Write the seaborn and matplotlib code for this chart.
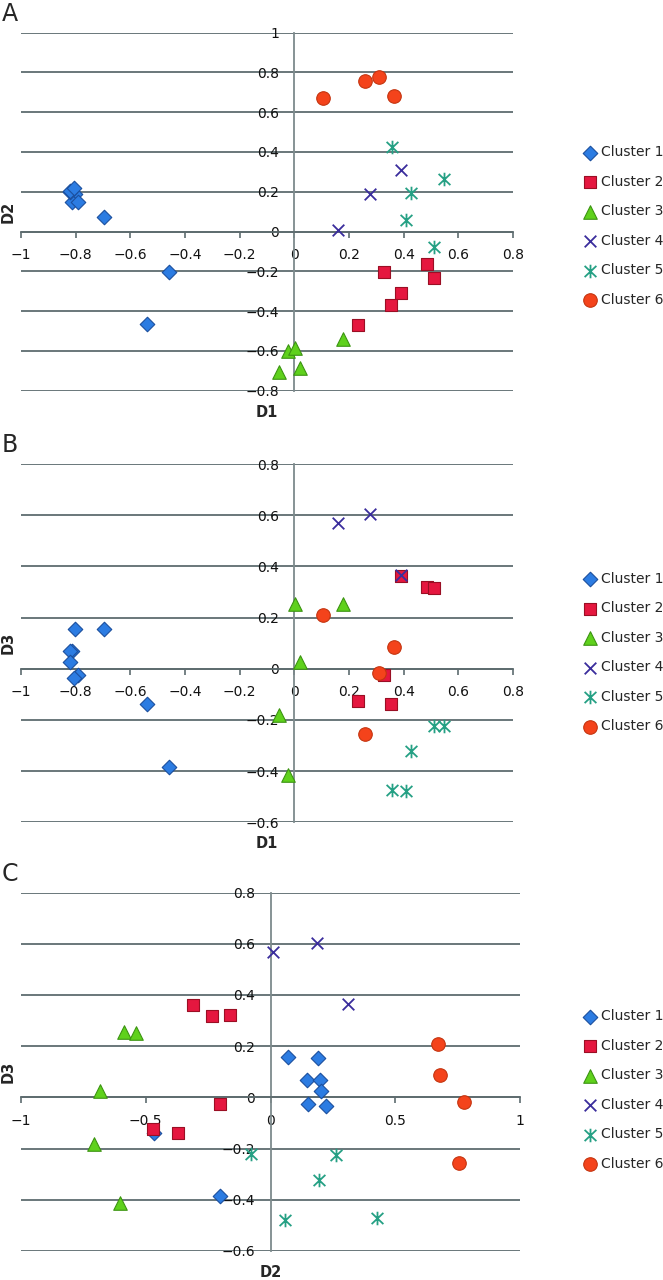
import numpy as np
import pandas as pd
import matplotlib
matplotlib.use('Agg')
import matplotlib.pyplot as plt
from matplotlib.path import Path
from matplotlib.ticker import FuncFormatter, MultipleLocator
import seaborn as sns

sns.set_theme(style='white')
plt.rcParams['font.family'] = ['DejaVu Sans']

# MDS coordinates for every cluster (D1, D2, D3)
c1_D1 = [-0.697, -0.458, -0.539, -0.803, -0.815, -0.820, -0.820, -0.790, -0.807]
c1_D2 = [0.072, -0.202, -0.465, 0.190, 0.147, 0.198, 0.202, 0.150, 0.221]
c1_D3 = [0.157, -0.385, -0.138, 0.155, 0.069, 0.068, 0.025, -0.026, -0.035]

c2_D1 = [0.327, 0.486, 0.512, 0.391, 0.355, 0.234]
c2_D2 = [-0.201, -0.163, -0.234, -0.310, -0.369, -0.469]
c2_D3 = [-0.026, 0.320, 0.316, 0.361, -0.138, -0.125]

c3_D1 = [-0.022, 0.003, -0.058, 0.019, 0.178]
c3_D2 = [-0.602, -0.587, -0.706, -0.684, -0.540]
c3_D3 = [-0.414, 0.254, -0.182, 0.026, 0.251]

c4_D1 = [0.161, 0.275, 0.389]
c4_D2 = [0.010, 0.187, 0.309]
c4_D3 = [0.568, 0.603, 0.365]

c5_D1 = [0.356, 0.546, 0.425, 0.407, 0.510]
c5_D2 = [0.425, 0.264, 0.193, 0.060, -0.079]
c5_D3 = [-0.472, -0.224, -0.323, -0.478, -0.222]

c6_D1 = [0.105, 0.257, 0.310, 0.366]
c6_D2 = [0.670, 0.757, 0.777, 0.680]
c6_D3 = [0.209, -0.256, -0.017, 0.086]

clusters = ['Cluster 1', 'Cluster 2', 'Cluster 3', 'Cluster 4', 'Cluster 5', 'Cluster 6']
coords = [(c1_D1, c1_D2, c1_D3), (c2_D1, c2_D2, c2_D3), (c3_D1, c3_D2, c3_D3),
          (c4_D1, c4_D2, c4_D3), (c5_D1, c5_D2, c5_D3), (c6_D1, c6_D2, c6_D3)]

rows = []
for name, (a, b, c) in zip(clusters, coords):
    for i in range(len(a)):
        rows.append({'cluster': name, 'D1': a[i], 'D2': b[i], 'D3': c[i]})
df = pd.DataFrame(rows)

# excel-like asterisk (x plus vertical stroke)
star = Path([(-1, -0.95), (1, 0.95), (-1, 0.95), (1, -0.95), (0, -1.15), (0, 1.15)],
            [Path.MOVETO, Path.LINETO] * 3)

styles = {
    'Cluster 1': dict(marker='D', s=55, color='#2c7ce2', edgecolor='#1b4f9e', linewidth=0.8),
    'Cluster 2': dict(marker='s', s=85, color='#e5173f', edgecolor='#9a0f24', linewidth=0.8),
    'Cluster 3': dict(marker='^', s=95, color='#5fd11c', edgecolor='#3c9412', linewidth=0.8),
    'Cluster 4': dict(marker='x', s=70, color='#3a2d9c', linewidth=1.3),
    'Cluster 5': dict(marker=star, s=95, color='#25a084', edgecolor='#25a084', linewidth=1.3),
    'Cluster 6': dict(marker='o', s=95, color='#f4431b', edgecolor='#c4340f', linewidth=0.8),
}

grid_col = '#5e6c6f'
axis_col = '#7d8a8c'


def fmt(v, pos):
    return ('%g' % round(v, 2)).replace('-', '\u2212')


def panel(ax, xcol, ycol, xlim, ylim, xstep, letter, leg_y):
    for name in clusters:
        sub = df[df['cluster'] == name]
        sns.scatterplot(data=sub, x=xcol, y=ycol, ax=ax, label=name, zorder=3,
                        clip_on=False, **styles[name])
    ax.set_xlim(*xlim)
    ax.set_ylim(*ylim)
    ax.xaxis.set_major_locator(MultipleLocator(xstep))
    ax.yaxis.set_major_locator(MultipleLocator(0.2))
    ax.xaxis.set_major_formatter(FuncFormatter(fmt))
    ax.yaxis.set_major_formatter(FuncFormatter(fmt))
    ax.spines['top'].set_visible(False)
    ax.spines['right'].set_visible(False)
    ax.spines['left'].set_position(('data', 0))
    ax.spines['bottom'].set_position(('data', 0))
    ax.spines['left'].set_color(axis_col)
    ax.spines['left'].set_linewidth(1.3)
    ax.spines['bottom'].set_color(grid_col)
    ax.spines['bottom'].set_linewidth(1.3)
    ax.yaxis.grid(True, color=grid_col, lw=1.3)
    ax.xaxis.grid(False)
    ax.set_axisbelow(True)
    ax.tick_params(axis='y', length=0, pad=11, labelsize=10, labelcolor='#111111')
    ax.tick_params(axis='x', bottom=True, direction='out', length=4, width=1.2,
                   color=grid_col, pad=8, labelsize=10, labelcolor='#111111')
    ax.set_xlabel('')
    ax.set_ylabel('')
    ax.text(0.5, -0.06, xcol, transform=ax.transAxes, ha='center', va='center',
            fontsize=10.5, fontweight='bold')
    ax.text(-0.026, 0.5, ycol, transform=ax.transAxes, ha='center', va='center',
            rotation=90, fontsize=10.5, fontweight='bold')
    ax.legend(loc='center left', bbox_to_anchor=(0.880, leg_y),
              bbox_transform=ax.figure.transFigure, frameon=False, fontsize=10,
              handlelength=1.0, handletextpad=0.3, labelspacing=1.12,
              borderpad=0, borderaxespad=0)
    pos = ax.get_position()
    ax.figure.text(0.003, pos.y1 + 0.0145, letter, fontsize=17, ha='left', va='center')


fig = plt.figure(figsize=(6.63, 12.8), dpi=100)
axA = fig.add_axes([0.0317, 0.6948, 0.7421, 0.2797])
axB = fig.add_axes([0.0317, 0.3576, 0.7421, 0.2799])
axC = fig.add_axes([0.0317, 0.0227, 0.7526, 0.2800])

panel(axA, 'D1', 'D2', (-1, 0.8), (-0.8, 1.0), 0.2, 'A', 0.8234)
panel(axB, 'D1', 'D3', (-1, 0.8), (-0.6, 0.8), 0.2, 'B', 0.4902)
panel(axC, 'D2', 'D3', (-1, 1.0), (-0.6, 0.8), 0.5, 'C', 0.1484)

fig.savefig('out.png', dpi=100)
